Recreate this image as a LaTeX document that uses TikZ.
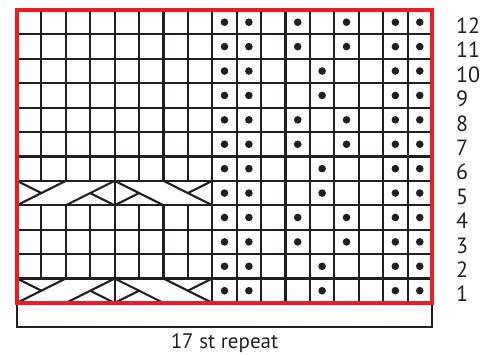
\documentclass[tikz,border=0pt]{standalone}
\usepackage{fontspec}
\setmainfont{PT Sans}
\definecolor{chartred}{HTML}{ED1C24}
\definecolor{ink}{HTML}{231F20}
\begin{document}
\begin{tikzpicture}[x=1pt,y=-1pt,
  gridline/.style={ink, line width=2.1pt},
  cableline/.style={ink, line width=2.1pt, line cap=round},
  purldot/.style={ink},
  frame/.style={chartred, line width=4.2pt},
  bracket/.style={ink, line width=1.5pt},
  rowlabel/.style={anchor=base west, inner sep=0pt, font=\fontsize{22}{22}\selectfont, text=ink},
  replabel/.style={anchor=base, inner sep=0pt, font=\fontsize{21}{21}\selectfont, text=ink}]
\useasboundingbox (0,0) rectangle (495,355);
\def\s{24.41}
% horizontal grid lines
\foreach \j in {1,...,11}
  \draw[gridline] (17,{10+\j*\s}) -- (432,{10+\j*\s});
% full vertical lines
\foreach \i in {4,8,9,10,11,12,13,14,15,16}
  \draw[gridline] ({17+\i*\s},10) -- ({17+\i*\s},303);
% vertical lines interrupted by the cable rows
\foreach \i in {1,2,3,5,6,7}{
  \draw[gridline] ({17+\i*\s},10) -- ({17+\i*\s},{10+7*\s});
  \draw[gridline] ({17+\i*\s},{10+8*\s}) -- ({17+\i*\s},{10+11*\s});
}
% cables (rows 5 and 1)
\foreach \t in {7,11}{
  \pgfmathsetmacro{\yt}{10+\t*\s}
  \pgfmathsetmacro{\yb}{10+(\t+1)*\s}
  \pgfmathsetmacro{\ym}{10+(\t+0.5)*\s}
  % right cross over cols 1-4
  \draw[cableline] ({17+0*\s},\yb) -- ({17+2*\s},\yt);
  \draw[cableline] ({17+2*\s},\yb) -- ({17+4*\s},\yt);
  \draw[cableline] ({17+0*\s},\yt) -- ({17+1*\s},\ym);
  \draw[cableline] ({17+3*\s},\ym) -- ({17+4*\s},\yb);
  % left cross over cols 5-8
  \draw[cableline] ({17+4*\s},\yt) -- ({17+6*\s},\yb);
  \draw[cableline] ({17+6*\s},\yt) -- ({17+8*\s},\yb);
  \draw[cableline] ({17+4*\s},\yb) -- ({17+5*\s},\ym);
  \draw[cableline] ({17+7*\s},\ym) -- ({17+8*\s},\yt);
}
% purl dots
\foreach \j in {0,...,11}
  \foreach \i in {8,9,15,16}
    \fill[purldot] ({17+(\i+0.5)*\s},{10+(\j+0.5)*\s}) circle (3.8);
\foreach \j in {0,1,4,5,8,9}
  \foreach \i in {11,13}
    \fill[purldot] ({17+(\i+0.5)*\s},{10+(\j+0.5)*\s}) circle (3.8);
\foreach \j in {2,3,6,7,10,11}
  \fill[purldot] ({17+12.5*\s},{10+(\j+0.5)*\s}) circle (3.8);
% repeat bracket
\draw[bracket] (17,303) -- (17,327) -- (432,327) -- (432,303);
% red frame
\draw[frame] (17,10) rectangle (432,303);
% row numbers
\foreach \n in {1,...,12}
  \node[rowlabel] (row\n) at (456,{10+(13-\n)*\s-1}) {\n};
\node[replabel] (repeat) at (224.5,348.5) {17 st repeat};
\end{tikzpicture}
\end{document}
